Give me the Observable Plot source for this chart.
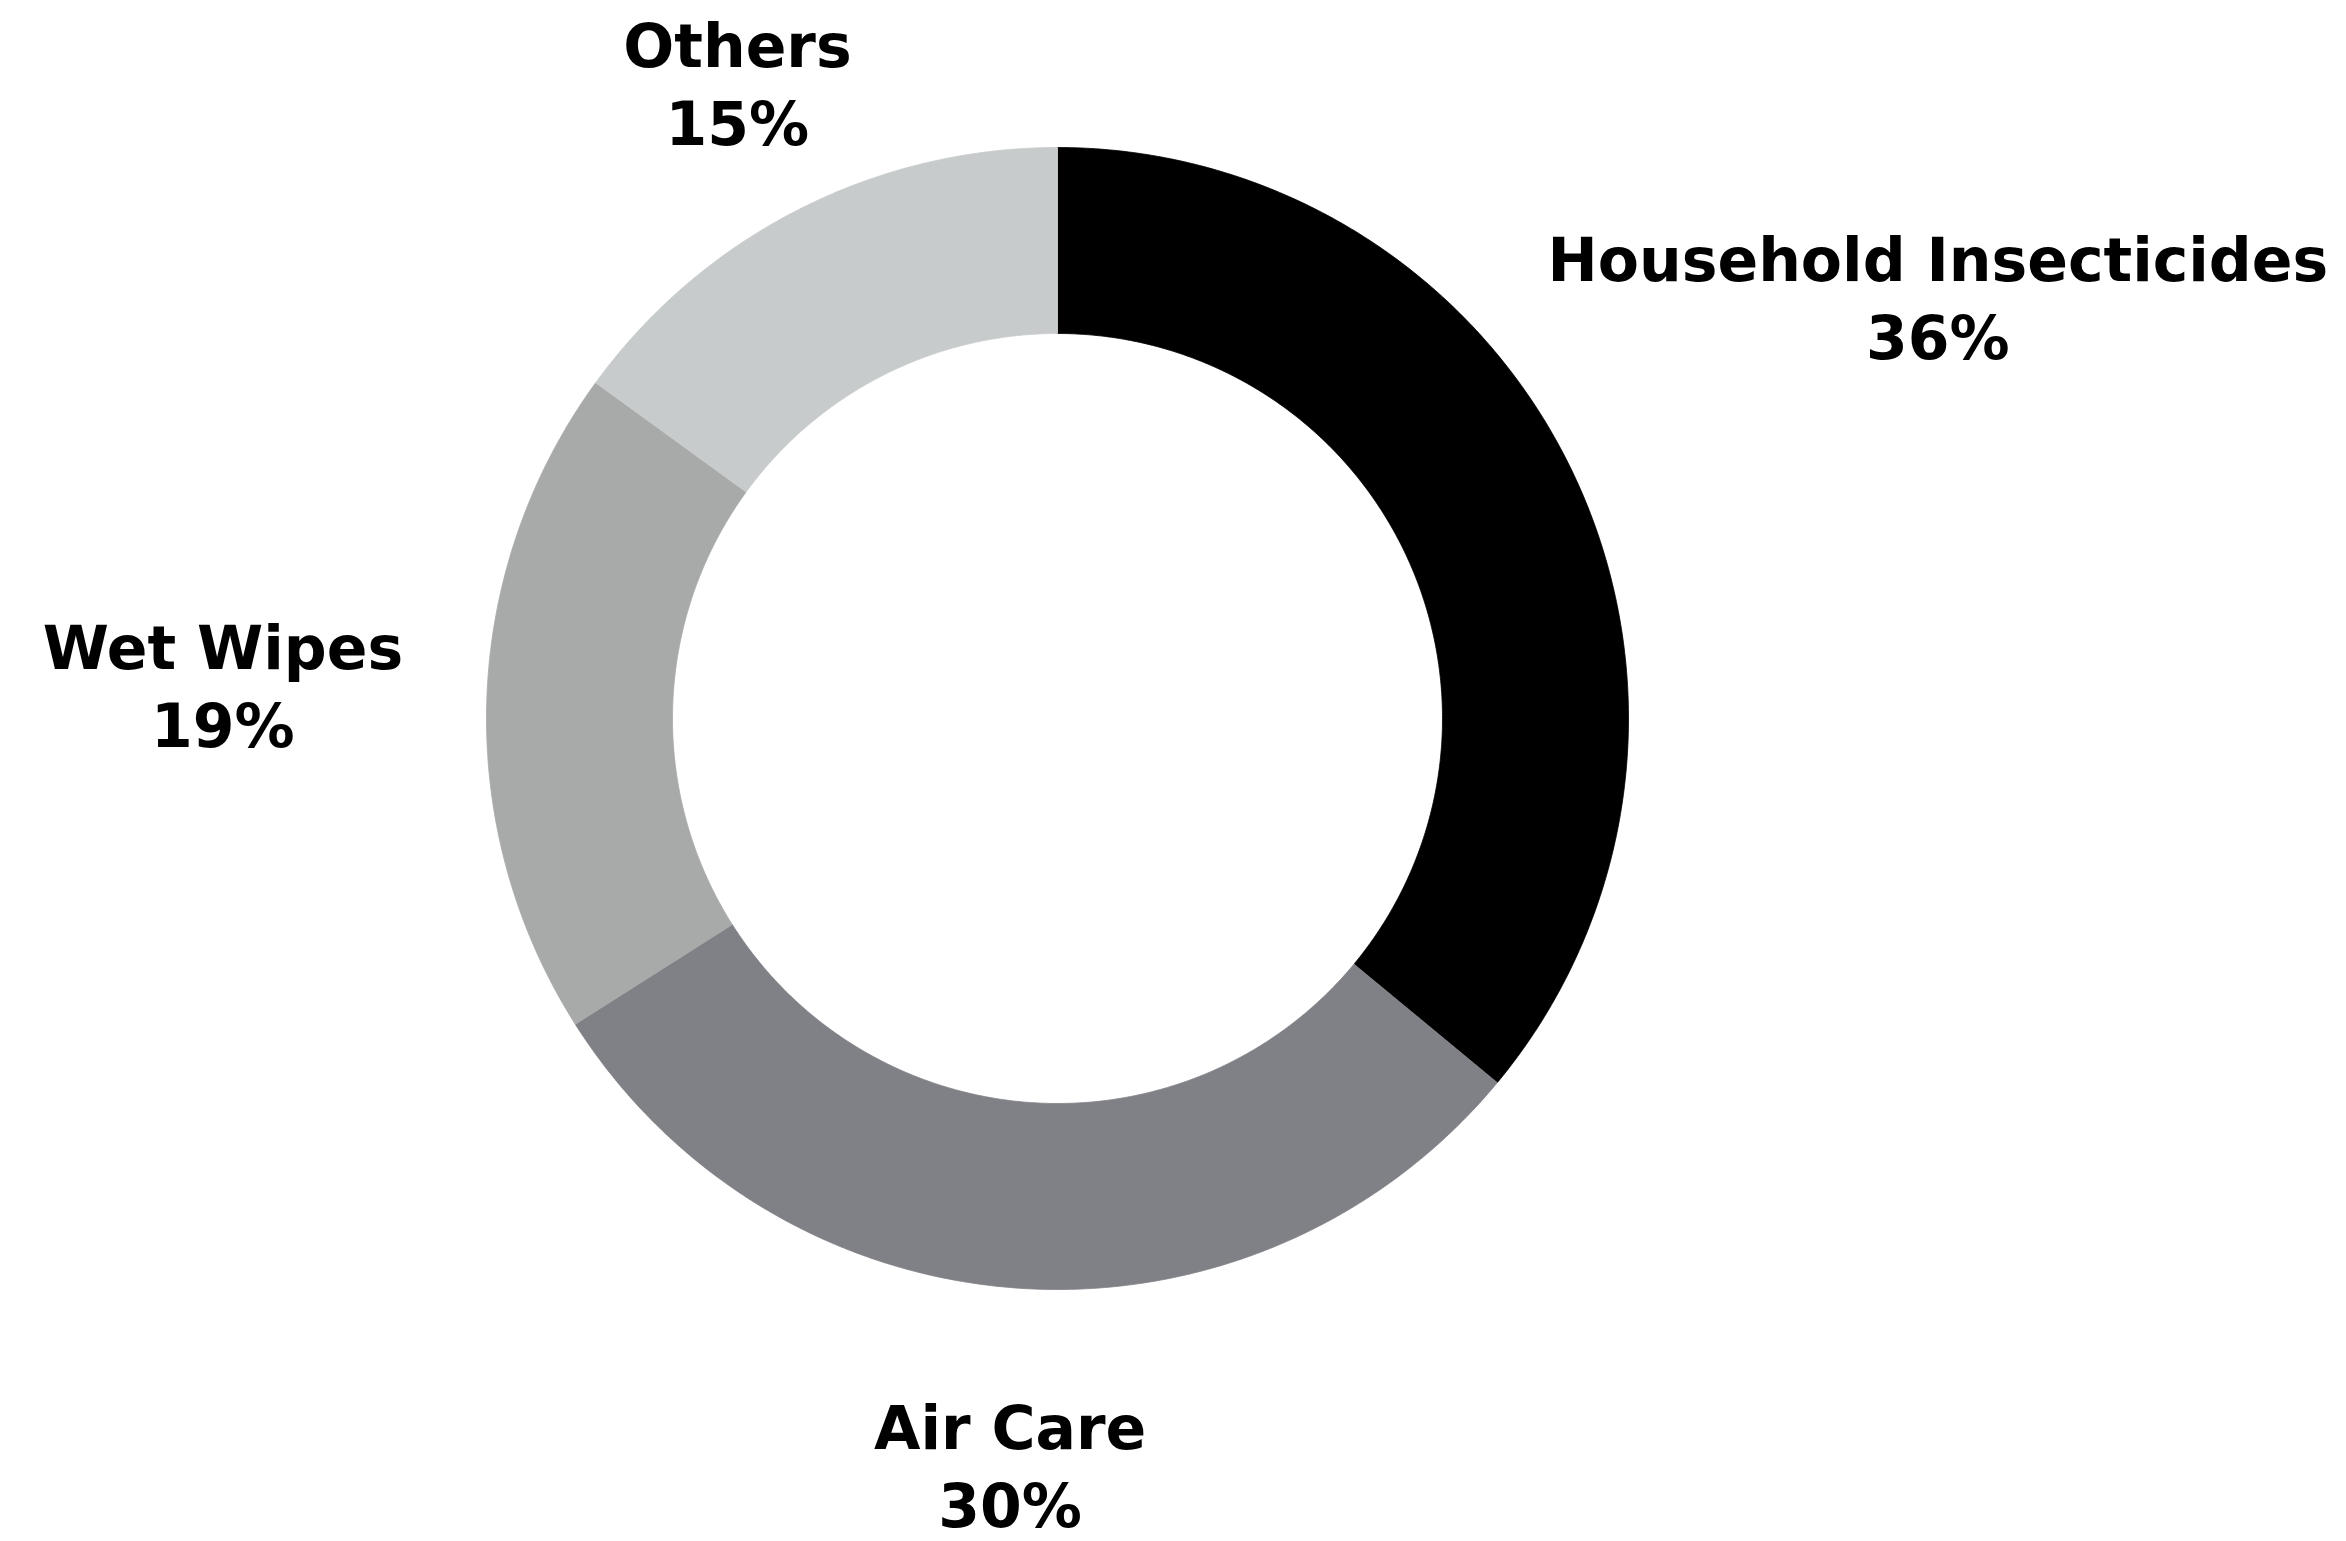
<!DOCTYPE html>
<html>
<head>
<meta charset="utf-8">
<script src="https://cdn.jsdelivr.net/npm/d3@7"></script>
<script src="https://cdn.jsdelivr.net/npm/@observablehq/plot@0.6"></script>
<style>
  html, body { margin: 0; padding: 0; background: #ffffff; }
  #chart svg { display: block; }
</style>
</head>
<body>
<div id="chart"></div>
<script>
// ---- Data ----
const categories = ["Household Insecticides", "Air Care", "Wet Wipes", "Others"];
const shares = [36, 30, 19, 15];
const percentLabels = ["36%", "30%", "19%", "15%"];
const sliceColors = ["#000000", "#808186", "#a8aaa9", "#c8cbcb"];

// ---- Layout (pixel units in the plot's own coordinate frame) ----
const W = 2346, H = 1541;
const cx = 1057, cy = 718;          // ring centre in the frame
const outerR = 571, innerR = 385;
const labelDist = {"Household Insecticides": 973, "Air Care": 755, "Wet Wipes": 835, "Others": 705};

const arcs = d3.pie().sort(null).value(d => d)(shares);

// polygon outline of each ring slice
const ringPts = [];
arcs.forEach((a, i) => {
  const n = Math.max(8, Math.ceil((a.endAngle - a.startAngle) * 120));
  for (let k = 0; k <= n; k++) {
    const t = a.startAngle + (a.endAngle - a.startAngle) * k / n;
    ringPts.push({cat: categories[i], x: outerR * Math.sin(t), y: outerR * Math.cos(t)});
  }
  for (let k = n; k >= 0; k--) {
    const t = a.startAngle + (a.endAngle - a.startAngle) * k / n;
    ringPts.push({cat: categories[i], x: innerR * Math.sin(t), y: innerR * Math.cos(t)});
  }
});

const labels = arcs.map((a, i) => {
  const mid = (a.startAngle + a.endAngle) / 2;
  const d = labelDist[categories[i]];
  return {cat: categories[i], text: categories[i] + "\n" + percentLabels[i], x: d * Math.sin(mid), y: d * Math.cos(mid)};
});

const chart = Plot.plot({
  width: W,
  height: H,
  margin: 0,
  style: {background: "#ffffff"},
  x: {domain: [-cx, W - cx], axis: null},
  y: {domain: [-(H - cy), cy], axis: null},
  color: {domain: categories, range: sliceColors},
  marks: [
    Plot.line(ringPts, {x: "x", y: "y", z: "cat", fill: "cat", stroke: "cat", strokeWidth: 0.8, curve: "linear"}),
    Plot.text(labels, {
      x: "x", y: "y", text: "text", dy: -9,
      fontSize: 60, fontWeight: "bold", fontFamily: "DejaVu Sans",
      fill: "#000000", lineHeight: 1.3, textAnchor: "middle", lineAnchor: "middle"
    })
  ]
});
document.getElementById("chart").appendChild(chart);
</script>
</body>
</html>
